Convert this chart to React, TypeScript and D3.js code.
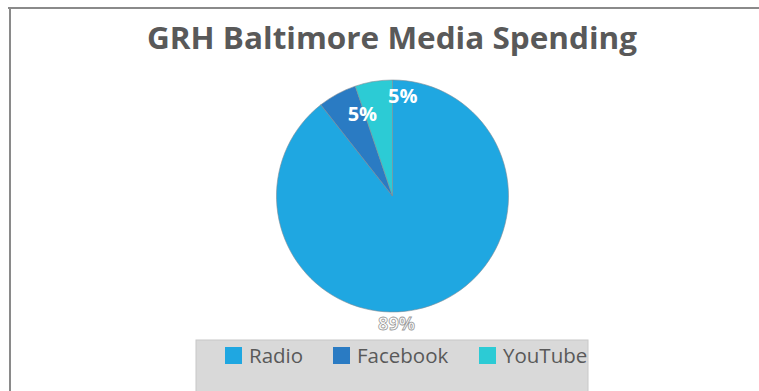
import React from "react";
import * as d3 from "d3";

const categories = ["Radio", "Facebook", "YouTube"];
const values = [89.4, 5.4, 5.2];
const colors = ["#1fa7e1", "#2a7bc3", "#2ccbd5"];
const title = "GRH Baltimore Media Spending";

const W = 759;
const H = 391;

export default function App() {
  const cx = 392.5;
  const cy = 196;
  const r = 116;
  const total = d3.sum(values);
  const pie = d3.pie<number>().sort(null).value((d) => d);
  const arcs = pie(values);
  const arcGen = d3.arc<d3.PieArcDatum<number>>().innerRadius(0).outerRadius(r);
  const labelArc = d3.arc<d3.PieArcDatum<number>>().innerRadius(r * 0.78).outerRadius(r * 0.78);
  const fmt = (v: number) => `${Math.round((v / total) * 100)}%`;
  const labelOffsets: [number, number][] = [[0, 0], [13, 5], [25, -4]];

  const legendX = [225, 333, 479];
  return (
    <svg
      width={W}
      height={H}
      style={{ position: "absolute", left: 0, top: 0, fontFamily: "'Open Sans', sans-serif" }}
    >
      <rect x={0} y={0} width={W} height={H} fill="#ffffff" />
      <line x1={8} y1={8} x2={W} y2={8} stroke="#8a8a8a" strokeWidth={2} />
      <line x1={10} y1={7} x2={10} y2={H} stroke="#8a8a8a" strokeWidth={2} />
      <text
        x={392}
        y={49}
        textAnchor="middle"
        fontSize={31}
        fontWeight={700}
        fill="#595959"
        textLength={490}
        lengthAdjust="spacingAndGlyphs"
      >
        {title}
      </text>
      <g transform={`translate(${cx},${cy})`}>
        {arcs.map((a, i) => (
          <path key={i} d={arcGen(a) || ""} fill={colors[i]} stroke="#7f8c95" strokeWidth={0.6} />
        ))}
        {arcs.map((a, i) => {
          if (i === 0) {
            return (
              <text
                key={i}
                x={4}
                y={r + 18}
                textAnchor="middle"
                fontSize={18}
                fontWeight={700}
                fill="#ffffff"
                stroke="#9a9a9a"
                strokeWidth={0.8}
              >
                {fmt(a.data)}
              </text>
            );
          }
          const [lx, ly] = labelArc.centroid(a);
          return (
            <text
              key={i}
              x={lx + labelOffsets[i][0]}
              y={ly + labelOffsets[i][1]}
              textAnchor="middle"
              fontSize={20}
              fontWeight={700}
              fill="#ffffff"
            >
              {fmt(a.data)}
            </text>
          );
        })}
      </g>
      <defs>
        <clipPath id="legclip">
          <rect x={196} y={340} width={392} height={60} />
        </clipPath>
      </defs>
      <rect x={196} y={340} width={392} height={60} fill="#d9d9d9" stroke="#c8c8c8" strokeWidth={1} />
      <g clipPath="url(#legclip)">
        {categories.map((c, i) => (
          <g key={c}>
            <rect x={legendX[i]} y={347} width={17} height={17} fill={colors[i]} />
            <text x={legendX[i] + 24} y={363} fontSize={20.5} fill="#595959">
              {c}
            </text>
          </g>
        ))}
      </g>
    </svg>
  );
}
